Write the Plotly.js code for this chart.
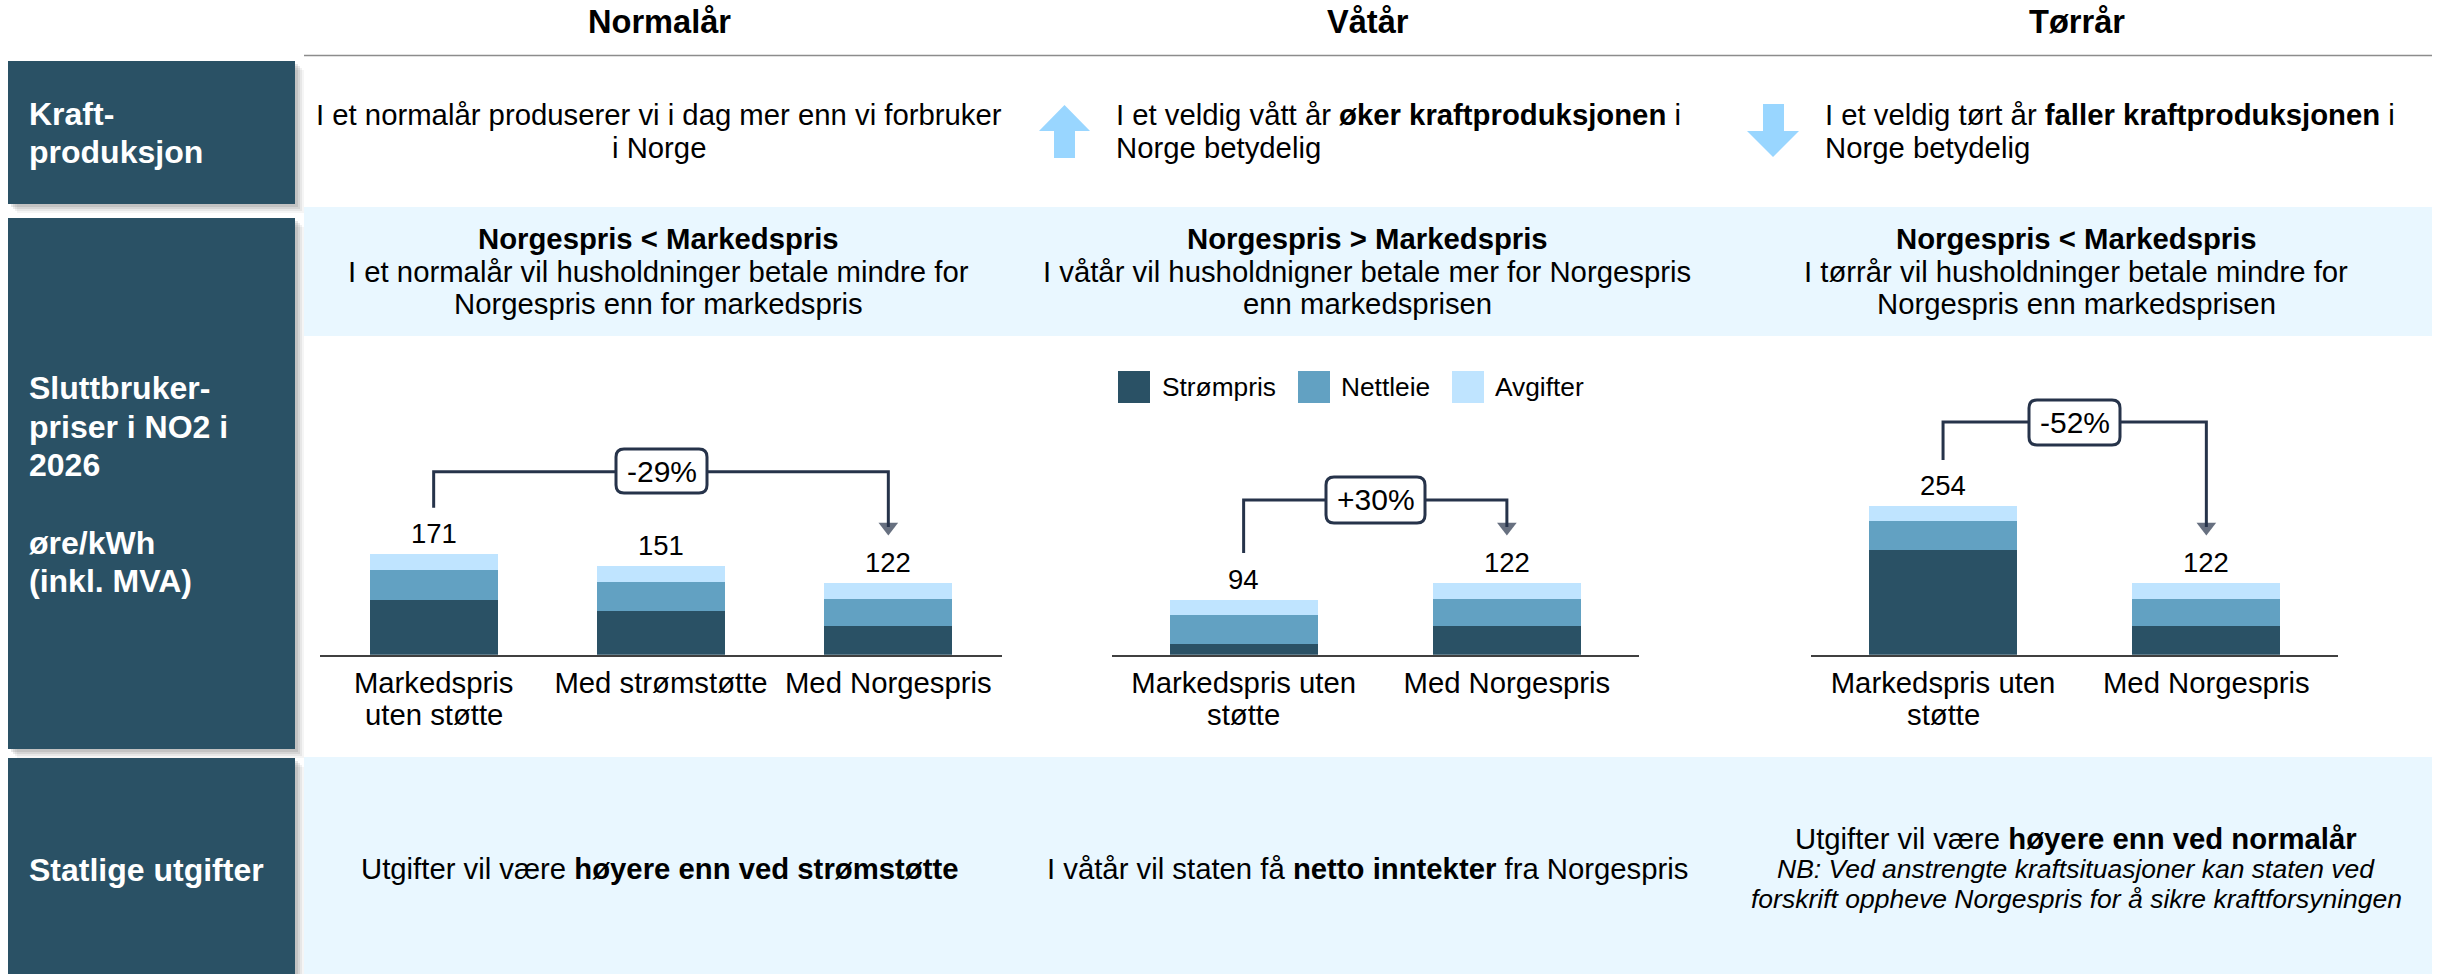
<!DOCTYPE html>
<html><head><meta charset="utf-8">
<script src="https://cdn.plot.ly/plotly-3.0.1.min.js"></script>
<style>html,body{margin:0;padding:0;background:#fff}</style></head>
<body><div id="chart" style="width:2442px;height:974px"></div>
<script>
// ---- chart values (øre/kWh) ----
const seriesNames = ['Strømpris', 'Nettleie', 'Avgifter'];
const normalCategories = ['Markedspris<br>uten støtte', 'Med strømstøtte', 'Med Norgespris'];
const normalStrompris = [93, 75, 49];
const normalNettleie = [51, 49, 46];
const normalAvgifter = [27, 27, 27];
const normalTotals = [171, 151, 122];
const wetCategories = ['Markedspris uten<br>støtte', 'Med Norgespris'];
const wetStrompris = [18, 49];
const wetNettleie = [49, 46];
const wetAvgifter = [27, 27];
const wetTotals = [94, 122];
const dryCategories = ['Markedspris uten<br>støtte', 'Med Norgespris'];
const dryStrompris = [178, 49];
const dryNettleie = [49, 46];
const dryAvgifter = [27, 27];
const dryTotals = [254, 122];
const changeLabels = ['-29%', '+30%', '-52%'];
const columnTitles = ['Normalår', 'Våtår', 'Tørrår'];

// ---- layout helpers ----
const W = 2442, H = 974;
const FONT = 'Liberation Sans, Arial, sans-serif';
const colors = ['#2a5165', '#62a1c2', '#bfe4ff'];
const INK = '#26334a';
const BASE = 654.7, PXU = 0.587, YMAX = 450;
const BODY = 29.3;
const px = x => x / W, py = y => 1 - y / H;
const yOf = p => (BASE - p) / PXU;
const shapes = [], annotations = [];
function rect(x0, y0, x1, y1, fill, layer) {
  shapes.push({type:'rect', xref:'paper', yref:'paper', x0:px(x0), x1:px(x1), y0:py(y1), y1:py(y0),
    fillcolor:fill, line:{width:0}, layer:layer||'below'});
}
function text(t, x, y, size, opt) {
  opt = opt || {};
  annotations.push({text:t, xref:'paper', yref:'paper', x:px(x), y:py(y), showarrow:false,
    xanchor:opt.anchor||'center', yanchor:'middle', align:opt.anchor||'center',
    font:{family:FONT, size:size, color:opt.color||'#000'}});
}
function sideBox(x0, y0, x1, y1) {
  [[9,0.05],[7,0.07],[5,0.10],[3,0.12]].forEach(s => {
    rect(x0 + s[0], y0 + s[0], x1 + s[0], y1 + s[0], 'rgba(60,60,60,' + s[1] + ')');
  });
  rect(x0, y0, x1, y1, colors[0]);
}
function pill(x0, y0, x1, y1, label) {
  const r = 8, X = px, Y = py;
  shapes.push({type:'path', xref:'paper', yref:'paper', layer:'above', fillcolor:'#fff',
    line:{color:INK, width:3},
    path:`M${X(x0+r)},${Y(y0)}L${X(x1-r)},${Y(y0)}Q${X(x1)},${Y(y0)} ${X(x1)},${Y(y0+r)}L${X(x1)},${Y(y1-r)}Q${X(x1)},${Y(y1)} ${X(x1-r)},${Y(y1)}L${X(x0+r)},${Y(y1)}Q${X(x0)},${Y(y1)} ${X(x0)},${Y(y1-r)}L${X(x0)},${Y(y0+r)}Q${X(x0)},${Y(y0)} ${X(x0+r)},${Y(y0)}Z`});
  text(label, (x0 + x1) / 2, (y0 + y1) / 2, 30);
}

// ---- table chrome ----
rect(304, 207, 2432, 336, '#e9f7ff');
rect(304, 757, 2432, 974, '#e9f7ff');
shapes.push({type:'line', xref:'paper', yref:'paper', x0:px(304), x1:px(2432), y0:py(55.5), y1:py(55.5), line:{color:'#8c8c8c', width:1.5}, layer:'below'});
sideBox(8, 61, 295, 204);
sideBox(8, 218, 295, 749);
sideBox(8, 758, 295, 974);

// arrows
const arrowFill = '#99d6ff';
function arrowPath(pts) {
  shapes.push({type:'path', xref:'paper', yref:'paper', layer:'below', fillcolor:arrowFill, line:{width:0},
    path:'M' + pts.map(p => px(p[0]) + ',' + py(p[1])).join('L') + 'Z'});
}
arrowPath([[1064.5,105],[1090,131],[1075,131],[1075,158],[1054,158],[1054,131],[1039,131]]);
arrowPath([[1773,157],[1747,131],[1763,131],[1763,104],[1784,104],[1784,131],[1799,131]]);

// headers
const CX = [659, 1368, 2077];
columnTitles.forEach((t, i) => text('<b>' + t + '</b>', CX[i], 22, 32.6));

// side labels
[['Kraft-',114],['produksjon',152],['Sluttbruker-',388],['priser i NO2 i',427],['2026',465],['øre/kWh',543],['(inkl. MVA)',581],['Statlige utgifter',870]]
  .forEach(l => text('<b>' + l[0] + '</b>', 27, l[1], 32, {anchor:'left', color:'#fff'}));

// row 1
text('I et normalår produserer vi i dag mer enn vi forbruker', 659, 114, BODY);
text('i Norge', 659, 147, BODY);
text('I et veldig vått år <b>øker kraftproduksjonen</b> i', 1114, 114, BODY, {anchor:'left'});
text('Norge betydelig', 1114, 147, BODY, {anchor:'left'});
text('I et veldig tørt år <b>faller kraftproduksjonen</b> i', 1823, 114, BODY, {anchor:'left'});
text('Norge betydelig', 1823, 147, BODY, {anchor:'left'});

// row 2
[[ '<b>Norgespris &lt; Markedspris</b>', 'I et normalår vil husholdninger betale mindre for', 'Norgespris enn for markedspris'],
 [ '<b>Norgespris &gt; Markedspris</b>', 'I våtår vil husholdnigner betale mer for Norgespris', 'enn markedsprisen'],
 [ '<b>Norgespris &lt; Markedspris</b>', 'I tørrår vil husholdninger betale mindre for', 'Norgespris enn markedsprisen']]
 .forEach((c, i) => c.forEach((l, j) => text(l, CX[i] - 1, [238, 271, 303][j], BODY)));

// row 3
text('Utgifter vil være <b>høyere enn ved strømstøtte</b>', 659, 868, BODY);
text('I våtår vil staten få <b>netto inntekter</b> fra Norgespris', 1367, 868, BODY);
text('Utgifter vil være <b>høyere enn ved normalår</b>', 2076, 838, BODY);
text('<i>NB: Ved anstrengte kraftsituasjoner kan staten ved</i>', 2076, 869, 26.5);
text('<i>forskrift oppheve Norgespris for å sikre kraftforsyningen</i>', 2076, 899, 26.5);

// legend
[[1118,1160],[1298,1339],[1452,1493]].forEach((p, i) => {
  rect(p[0], 371, p[0] + 32, 403, colors[i]);
  text(seriesNames[i], p[1], 387, 26.3, {anchor:'left'});
});

// change pills
pill(616, 449, 707, 493, changeLabels[0]);
pill(1326, 477, 1425, 523, changeLabels[1]);
pill(2029, 400, 2120, 445, changeLabels[2]);

// ---- traces ----
const groups = [
  {ax:'x',  cats:normalCategories, vals:[normalStrompris, normalNettleie, normalAvgifter], tot:normalTotals, top:471.7, start:507.7},
  {ax:'x2', cats:wetCategories, vals:[wetStrompris, wetNettleie, wetAvgifter], tot:wetTotals, top:500, start:553},
  {ax:'x3', cats:dryCategories, vals:[dryStrompris, dryNettleie, dryAvgifter], tot:dryTotals, top:422, start:460}
];
const traces = [];
groups.forEach(g => {
  g.vals.forEach((v, i) => traces.push({type:'bar', x:g.cats, y:v, name:seriesNames[i], xaxis:g.ax, yaxis:'y',
    marker:{color:colors[i], line:{width:0}}, hoverinfo:'skip', showlegend:false}));
  g.cats.forEach((c, i) => {
    // value label above each stack
    annotations.push({xref:g.ax, yref:'y', x:c, y:g.tot[i], text:String(g.tot[i]), showarrow:false,
      yanchor:'bottom', yshift:3, font:{family:FONT, size:27.5, color:'#000'}});
    // second line of a category label, at the spacing of the reference
    const parts = c.split('<br>');
    if (parts[1]) annotations.push({xref:g.ax, yref:'paper', x:c, y:py(714), text:parts[1], showarrow:false,
      yanchor:'middle', font:{family:FONT, size:BODY, color:'#000'}});
  });
  const a = g.cats[0], b = g.cats[g.cats.length - 1];
  traces.push({type:'scatter', mode:'lines+markers', x:[a, a, b, b],
    y:[yOf(g.start), yOf(g.top), yOf(g.top), yOf(527)],
    line:{color:INK, width:3, shape:'linear'},
    marker:{symbol:['circle','circle','circle','triangle-down'], size:[0,0,0,17], color:INK, line:{width:0}},
    xaxis:g.ax, yaxis:'y', cliponaxis:false, hoverinfo:'skip', showlegend:false});
});

function xAxis(x0, x1, cats) {
  return {domain:[px(x0), px(x1)], anchor:'y', type:'category', showgrid:false, zeroline:false,
    showline:true, linecolor:'#404040', linewidth:2, ticks:'', ticklabelstandoff:1, automargin:false,
    tickmode:'array', tickvals:cats, ticktext:cats.map(c => c.split('<br>')[0]),
    tickfont:{family:FONT, size:BODY, color:'#000'}, fixedrange:true};
}
const layout = {
  width:W, height:H, margin:{l:0, r:0, t:0, b:0}, barmode:'stack', bargap:0.437,
  paper_bgcolor:'#fff', plot_bgcolor:'rgba(0,0,0,0)', showlegend:false,
  xaxis:xAxis(320, 1002, normalCategories), xaxis2:xAxis(1112, 1638.5, wetCategories), xaxis3:xAxis(1811.4, 2338, dryCategories),
  yaxis:{domain:[py(BASE), py(BASE - YMAX * PXU)], range:[0, YMAX], visible:false, fixedrange:true},
  shapes:shapes, annotations:annotations, font:{family:FONT}
};
Plotly.newPlot('chart', traces, layout, {displayModeBar:false, staticPlot:true});
</script></body></html>
